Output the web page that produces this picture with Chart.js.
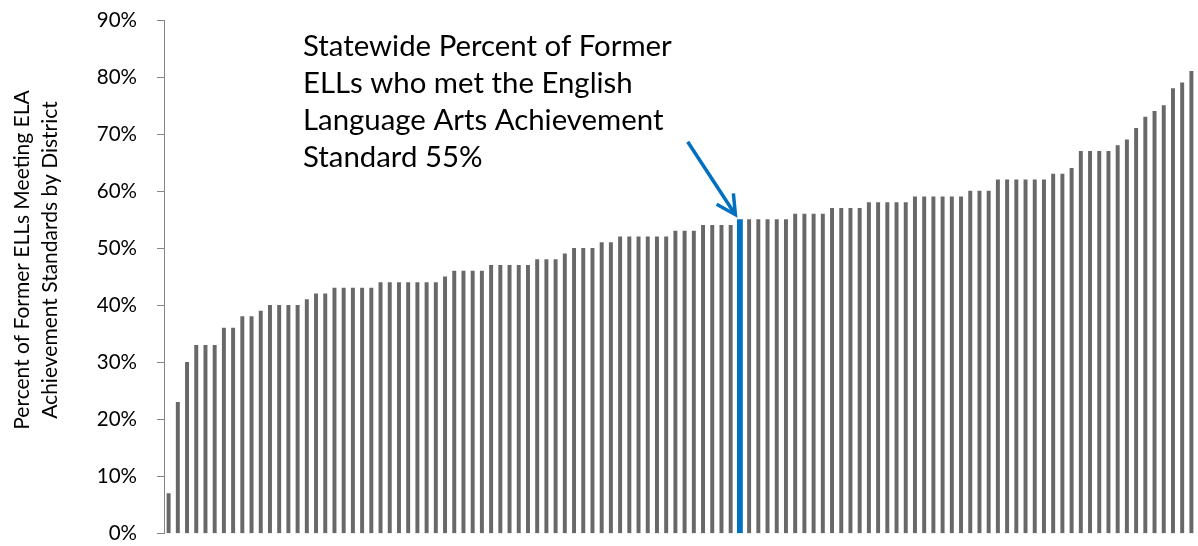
<!DOCTYPE html>
<html>
<head>
<meta charset="utf-8">
<script src="https://cdn.jsdelivr.net/npm/chart.js@4/dist/chart.umd.min.js"></script>
<style>
  html, body { margin: 0; padding: 0; background: #ffffff; }
  #wrap { width: 1198px; height: 546px; position: relative; }
</style>
</head>
<body>
<div id="wrap"><canvas id="c" width="1198" height="546"></canvas></div>
<script>
// ---- Data ----
const districtRates = [
  7, 23, 30, 33, 33, 33, 36, 36, 38, 38, 39, 40, 40, 40, 40, 41, 42, 42,
  43, 43, 43, 43, 43,
  44, 44, 44, 44, 44, 44, 44,
  45,
  46, 46, 46, 46,
  47, 47, 47, 47, 47,
  48, 48, 48,
  49,
  50, 50, 50,
  51, 51,
  52, 52, 52, 52, 52, 52,
  53, 53, 53,
  54, 54, 54, 54,
  55,
  55, 55, 55, 55, 55,
  56, 56, 56, 56,
  57, 57, 57, 57,
  58, 58, 58, 58, 58,
  59, 59, 59, 59, 59, 59,
  60, 60, 60,
  62, 62, 62, 62, 62, 62,
  63, 63,
  64,
  67, 67, 67, 67,
  68, 69, 71, 73, 74, 75, 78, 79, 81
];
const statewideIndex = 62;          // position of the statewide bar
const statewideRate = 55;
const districtLabels = districtRates.map((_, i) => 'District ' + (i + 1));
const yTickValues = [0, 10, 20, 30, 40, 50, 60, 70, 80, 90];
const yTitleLines = ['Percent of Former ELLs Meeting ELA', 'Achievement Standards by District'];
const annotationLines = [
  'Statewide Percent of Former',
  'ELLs who met the English',
  'Language Arts Achievement',
  'Standard ' + statewideRate + '%'
];

const greyValues = districtRates.map((v, i) => i === statewideIndex ? null : v);
const blueValues = districtRates.map((v, i) => i === statewideIndex ? v : null);

const FONT = 'Lato, "Liberation Sans", Arial, sans-serif';
const TARGET_TOP = 20, TARGET_BOTTOM = 533.5;

const overlayPlugin = {
  id: 'overlay',
  afterDraw(chart) {
    const ctx = chart.ctx;
    ctx.save();
    // Y-axis title (two lines, rotated)
    ctx.fillStyle = '#000';
    ctx.font = '21px ' + FONT;
    ctx.textAlign = 'center';
    ctx.textBaseline = 'middle';
    const titleCenterY = 260;
    yTitleLines.forEach((line, k) => {
      ctx.save();
      ctx.translate(22 + k * 28, titleCenterY);
      ctx.rotate(-Math.PI / 2);
      ctx.fillText(line, 0, 0);
      ctx.restore();
    });

    // Annotation text, fitted so the first line spans ~369px
    let size = 30;
    ctx.font = size + 'px ' + FONT;
    const w = ctx.measureText(annotationLines[0]).width;
    size = size * 369 / w;
    ctx.font = size.toFixed(2) + 'px ' + FONT;
    ctx.textAlign = 'left';
    ctx.textBaseline = 'alphabetic';
    annotationLines.forEach((line, k) => {
      ctx.fillText(line, 303, 56 + k * 36.9);
    });

    // Arrow pointing at the statewide bar
    const bar = chart.getDatasetMeta(1).data[statewideIndex];
    if (bar) {
      const tipX = bar.x - 4.5, tipY = bar.y - 5;
      const dx = 47.7, dy = 73;
      const len = Math.hypot(dx, dy);
      const ux = dx / len, uy = dy / len;
      const nx = uy, ny = -ux;
      ctx.strokeStyle = '#0070C0';
      ctx.lineWidth = 3.5;
      ctx.lineCap = 'butt';
      ctx.lineJoin = 'miter';
      ctx.beginPath();
      ctx.moveTo(tipX - dx, tipY - dy);
      ctx.lineTo(tipX - ux * 1.5, tipY - uy * 1.5);
      ctx.stroke();
      ctx.beginPath();
      ctx.moveTo(tipX - ux * 19 + nx * 10, tipY - uy * 19 + ny * 10);
      ctx.lineTo(tipX, tipY);
      ctx.lineTo(tipX - ux * 19 - nx * 10, tipY - uy * 19 - ny * 10);
      ctx.stroke();
    }
    ctx.restore();
  }
};

const chart = new Chart(document.getElementById('c'), {
  type: 'bar',
  data: {
    labels: districtLabels,
    datasets: [
      { label: 'Districts', data: greyValues, backgroundColor: '#686868', barThickness: 3.3, borderWidth: 0 },
      { label: 'Statewide', data: blueValues, backgroundColor: '#0070C0', barThickness: 5.2, borderWidth: 0 }
    ]
  },
  options: {
    responsive: false,
    animation: false,
    layout: { padding: { top: TARGET_TOP, right: 2, bottom: 546 - TARGET_BOTTOM, left: 0 } },
    plugins: { legend: { display: false }, tooltip: { enabled: false } },
    scales: {
      x: { stacked: true, display: false, offset: true },
      y: {
        min: 0, max: 90,
        afterBuildTicks: (s) => { s.ticks = yTickValues.map(v => ({ value: v })); },
        afterFit: (s) => { s.width = 164; s.paddingTop = 0; s.paddingBottom = 0; },
        ticks: {
          callback: (v) => v + '%',
          font: { family: FONT, size: 20.5 },
          color: '#000',
          padding: 20
        },
        grid: { drawOnChartArea: false, drawTicks: true, tickLength: 7, color: '#868686' },
        border: { display: true, color: '#868686', width: 1 }
      }
    }
  },
  plugins: [overlayPlugin]
});

// Safety correction so 90% sits at the top target and 0% at the bottom target.
const pad = chart.options.layout.padding;
const dTop = TARGET_TOP - chart.chartArea.top;
const dBot = chart.chartArea.bottom - TARGET_BOTTOM;
if (Math.abs(dTop) > 0.5 || Math.abs(dBot) > 0.5) {
  pad.top += dTop;
  pad.bottom += dBot;
  chart.update();
}
</script>
</body>
</html>
